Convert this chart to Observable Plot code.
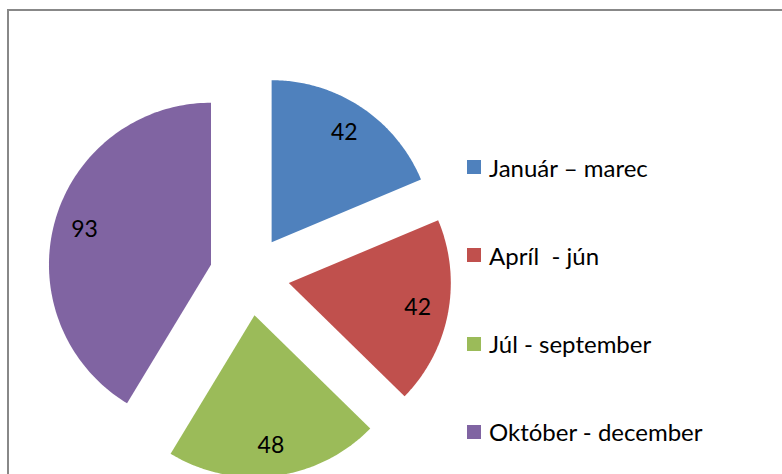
<!DOCTYPE html>
<html>
<head>
<meta charset="utf-8">
<script src="https://cdn.jsdelivr.net/npm/d3@7"></script>
<script src="https://cdn.jsdelivr.net/npm/@observablehq/plot@0.6"></script>
<style>
  html, body { margin: 0; padding: 0; background: #fff; overflow: hidden; }
  #wrap { position: relative; width: 782px; height: 474px; overflow: hidden; }
  #frame { position: absolute; left: 7px; top: 9px; width: 900px; height: 600px;
           border-left: 2px solid #888; border-top: 2px solid #888; box-sizing: border-box; }
  #chart { position: absolute; left: 0; top: 0; }
  #legend { position: absolute; left: 467px; top: 0; font-family: Lato, "Open Sans", sans-serif; font-size: 24px; color: #000; }
  .item { position: absolute; left: 0; display: flex; align-items: center; white-space: pre; height: 32px; transform: translateY(-50%); }
  .sw { width: 14px; height: 14px; margin-right: 8px; flex: none; }
</style>
</head>
<body>
<div id="wrap">
  <div id="frame"></div>
  <div id="chart"></div>
  <div id="legend"></div>
</div>
<script>
const categories = ["Január – marec", "Apríl  - jún", "Júl - september", "Október - december"];
const values = [42, 42, 48, 93];
const colors = ["#4F81BD", "#C0504D", "#9BBB59", "#8064A2"];

const W = 782, H = 474;
const R = 162;            // pie radius in px
const cx = 249, cy = 275; // pie centre in px
const explode = 40 / R;   // explosion offset in radius units
const labelR = 0.81;

const data = categories.map((c, i) => ({cat: c, value: values[i]}));
const arcs = d3.pie().sort(null).value(d => d.value)(data);

// polygon points in unit-radius coordinates (y up), angle 0 at top, clockwise
const pts = [];
const labels = [];
for (const a of arcs) {
  const mid = (a.startAngle + a.endAngle) / 2;
  const ox = explode * Math.sin(mid), oy = explode * Math.cos(mid);
  pts.push({cat: a.data.cat, x: ox, y: oy});
  const n = 120;
  for (let k = 0; k <= n; k++) {
    const t = a.startAngle + (a.endAngle - a.startAngle) * k / n;
    pts.push({cat: a.data.cat, x: ox + Math.sin(t), y: oy + Math.cos(t)});
  }
  pts.push({cat: a.data.cat, x: ox, y: oy});
  labels.push({cat: a.data.cat, value: a.data.value,
               x: ox + labelR * Math.sin(mid), y: oy + labelR * Math.cos(mid)});
}

const plot = Plot.plot({
  width: W, height: H,
  margin: 0,
  x: {domain: [-cx / R, (W - cx) / R], axis: null},
  y: {domain: [(cy - H) / R, cy / R], axis: null},
  color: {domain: categories, range: colors},
  style: {background: "transparent", overflow: "hidden"},
  marks: [
    Plot.line(pts, {x: "x", y: "y", z: "cat", fill: "cat", stroke: null, curve: "linear"}),
    Plot.text(labels, {x: "x", y: "y", text: d => String(d.value), fill: "#000",
      fontSize: 23, fontFamily: "Lato, 'Open Sans', sans-serif", textAnchor: "middle", dy: 0})
  ]
});
document.getElementById("chart").appendChild(plot);

const legend = document.getElementById("legend");
categories.forEach((c, i) => {
  const it = document.createElement("div");
  it.className = "item";
  it.style.top = (167 + i * 88.3) + "px";
  const sw = document.createElement("span");
  sw.className = "sw";
  sw.style.background = colors[i];
  const tx = document.createElement("span");
  tx.textContent = c;
  it.appendChild(sw); it.appendChild(tx);
  legend.appendChild(it);
});
</script>
</body>
</html>
